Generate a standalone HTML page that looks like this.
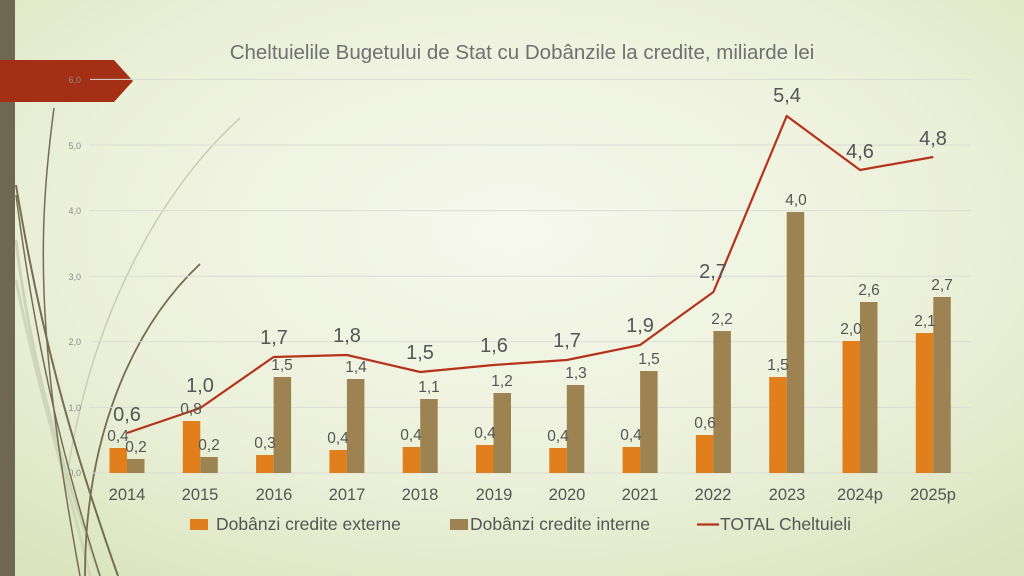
<!DOCTYPE html>
<html><head><meta charset="utf-8"><style>
html,body{margin:0;padding:0;width:1024px;height:576px;overflow:hidden}
svg{display:block;font-family:"Liberation Sans",sans-serif}
</style></head><body>
<svg width="1024" height="576" viewBox="0 0 1024 576">
<defs>
<radialGradient id="bg" cx="0.5" cy="0.4" r="0.75">
<stop offset="0" stop-color="#f6f8ec"/><stop offset="0.6" stop-color="#ebf0d9"/><stop offset="1" stop-color="#d9e4bd"/>
</radialGradient>
</defs>
<rect width="1024" height="576" fill="url(#bg)"/>
<g fill="none">
<path d="M240,118 C150,200 90,330 68,470" stroke="#c9cdb4" stroke-width="1.5"/>
<path d="M16,240 C30,360 60,460 100,576" stroke="#cdd3b5" stroke-width="3"/>
<path d="M16,280 C40,400 70,490 90,576" stroke="#d0d6b8" stroke-width="3"/>
<path d="M54,108 C38,230 35,330 80,576" stroke="#756c54" stroke-width="1.5"/>
<path d="M16,185 C40,330 70,440 118,576" stroke="#756c54" stroke-width="2"/>
<path d="M16,195 C35,340 60,450 100,576" stroke="#756c54" stroke-width="1.5"/>
<path d="M200,264 C130,330 85,440 85,576" stroke="#756c54" stroke-width="1.8"/>
</g>
<rect x="0" y="0" width="15" height="576" fill="#6f6750"/>
<polygon points="0,60 114,60 133,81 114,102 0,102" fill="#a33015"/>
<text x="522" y="59" font-size="20.5" fill="#707070" text-anchor="middle">Cheltuielile Bugetului de Stat cu Dobânzile la credite, miliarde lei</text>
<g stroke="#dcdcd6" stroke-width="1">
<line x1="90" y1="79.4" x2="971" y2="79.4"/>
<line x1="90" y1="145" x2="971" y2="145"/>
<line x1="90" y1="210.6" x2="971" y2="210.6"/>
<line x1="90" y1="276.2" x2="971" y2="276.2"/>
<line x1="90" y1="341.8" x2="971" y2="341.8"/>
<line x1="90" y1="407.4" x2="971" y2="407.4"/>
<line x1="90" y1="473" x2="971" y2="473"/>
</g>
<g font-size="9" fill="#8a8a8a" text-anchor="end">
<text x="81" y="83">6,0</text><text x="81" y="149">5,0</text><text x="81" y="214">4,0</text><text x="81" y="280">3,0</text><text x="81" y="345">2,0</text><text x="81" y="411">1,0</text><text x="81" y="476">0,0</text>
</g>
<g fill="#e07f1c">
<rect x="109.5" y="448" width="17.5" height="25"/>
<rect x="182.8" y="421" width="17.5" height="52"/>
<rect x="256.1" y="455" width="17.5" height="18"/>
<rect x="329.4" y="450" width="17.5" height="23"/>
<rect x="402.7" y="447" width="17.5" height="26"/>
<rect x="476" y="445" width="17.5" height="28"/>
<rect x="549.3" y="448" width="17.5" height="25"/>
<rect x="622.6" y="447" width="17.5" height="26"/>
<rect x="695.9" y="435" width="17.5" height="38"/>
<rect x="769.2" y="377" width="17.5" height="96"/>
<rect x="842.5" y="341" width="17.5" height="132"/>
<rect x="915.8" y="333" width="17.5" height="140"/>
</g>
<g fill="#9e8352">
<rect x="127" y="459" width="17.5" height="14"/>
<rect x="200.3" y="457" width="17.5" height="16"/>
<rect x="273.6" y="377" width="17.5" height="96"/>
<rect x="346.9" y="379" width="17.5" height="94"/>
<rect x="420.2" y="399" width="17.5" height="74"/>
<rect x="493.5" y="393" width="17.5" height="80"/>
<rect x="566.8" y="385" width="17.5" height="88"/>
<rect x="640.1" y="371" width="17.5" height="102"/>
<rect x="713.4" y="331" width="17.5" height="142"/>
<rect x="786.7" y="212" width="17.5" height="261"/>
<rect x="860" y="302" width="17.5" height="171"/>
<rect x="933.3" y="297" width="17.5" height="176"/>
</g>
<polyline fill="none" stroke="#b5331a" stroke-width="2.2" stroke-linejoin="round" points="127,433 200.3,408 273.6,357 346.9,355 420.2,372 493.5,365 566.8,360 640.1,345 713.4,292 786.7,116 860,170 933.3,157"/>
<g font-size="15.5" fill="#555" text-anchor="middle">
<text x="118" y="441">0,4</text><text x="191" y="414">0,8</text><text x="265" y="448">0,3</text><text x="338" y="443">0,4</text><text x="411" y="440">0,4</text><text x="485" y="438">0,4</text><text x="558" y="441">0,4</text><text x="631" y="440">0,4</text><text x="705" y="428">0,6</text><text x="778" y="370">1,5</text><text x="851" y="334">2,0</text><text x="925" y="326">2,1</text>
</g>
<g font-size="15.5" fill="#555" text-anchor="middle">
<text x="136" y="452">0,2</text><text x="209" y="450">0,2</text><text x="282" y="370">1,5</text><text x="356" y="372">1,4</text><text x="429" y="392">1,1</text><text x="502" y="386">1,2</text><text x="576" y="378">1,3</text><text x="649" y="364">1,5</text><text x="722" y="324">2,2</text><text x="796" y="205">4,0</text><text x="869" y="295">2,6</text><text x="942" y="290">2,7</text>
</g>
<g font-size="20" fill="#555" text-anchor="middle">
<text x="127" y="421">0,6</text><text x="200" y="392">1,0</text><text x="274" y="344">1,7</text><text x="347" y="342">1,8</text><text x="420" y="359">1,5</text><text x="494" y="352">1,6</text><text x="567" y="347">1,7</text><text x="640" y="332">1,9</text><text x="713" y="278">2,7</text><text x="787" y="102">5,4</text><text x="860" y="158">4,6</text><text x="933" y="145">4,8</text>
</g>
<g font-size="16.5" fill="#555" text-anchor="middle">
<text x="127" y="500">2014</text><text x="200" y="500">2015</text><text x="274" y="500">2016</text><text x="347" y="500">2017</text><text x="420" y="500">2018</text><text x="494" y="500">2019</text><text x="567" y="500">2020</text><text x="640" y="500">2021</text><text x="713" y="500">2022</text><text x="787" y="500">2023</text><text x="860" y="500">2024p</text><text x="933" y="500">2025p</text>
</g>
<rect x="190" y="519" width="18" height="11" fill="#e07f1c"/>
<text x="216" y="530" font-size="17.5" fill="#555">Dobânzi credite externe</text>
<rect x="450" y="519" width="18" height="11" fill="#9e8352"/>
<text x="470" y="530" font-size="17.5" fill="#555">Dobânzi credite interne</text>
<line x1="697" y1="524.5" x2="719" y2="524.5" stroke="#b5331a" stroke-width="2.2"/>
<text x="720" y="530" font-size="17.5" fill="#555">TOTAL Cheltuieli</text>
</svg>
</body></html>
